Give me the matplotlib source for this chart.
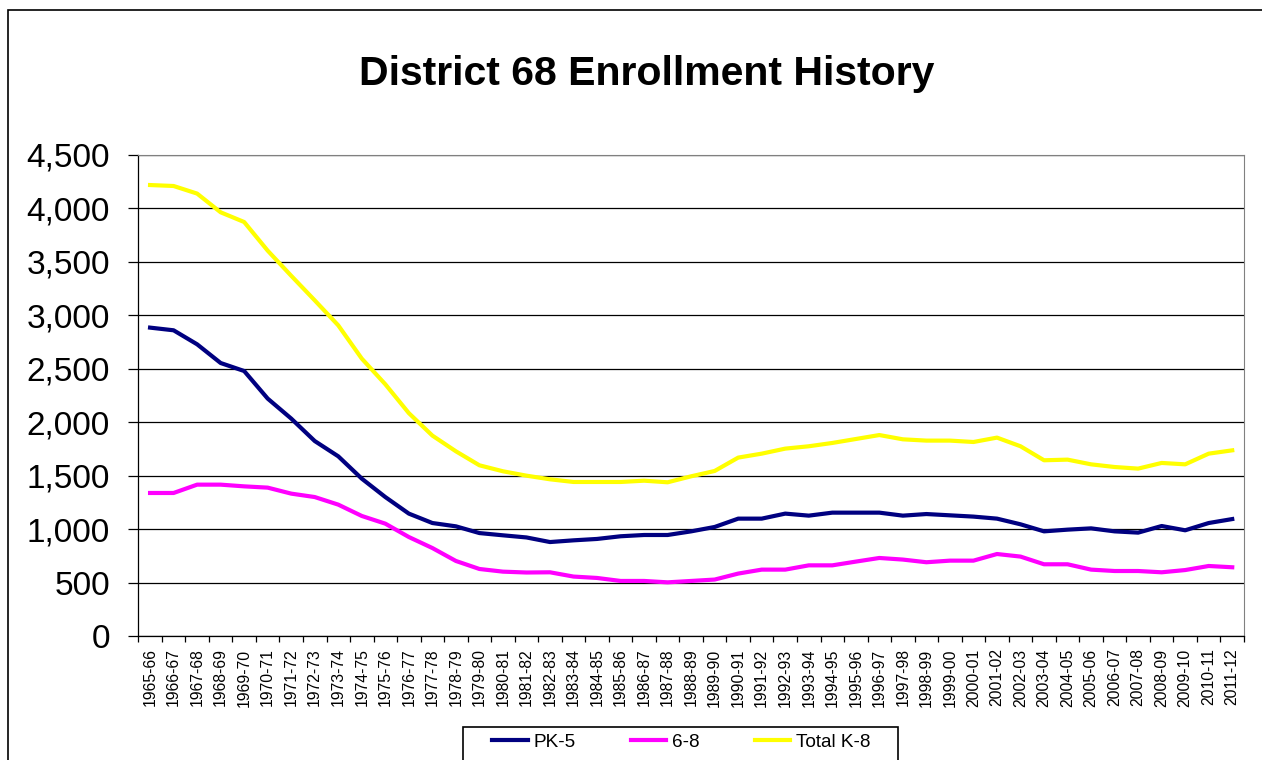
import matplotlib
matplotlib.use("Agg")
import matplotlib.pyplot as plt
from matplotlib.patches import Rectangle
from matplotlib.ticker import FuncFormatter, MultipleLocator

plt.rcParams['font.family'] = ['Liberation Sans', 'DejaVu Sans']

years = ["1965-66", "1966-67", "1967-68", "1968-69", "1969-70", "1970-71", "1971-72",
         "1972-73", "1973-74", "1974-75", "1975-76", "1976-77", "1977-78", "1978-79",
         "1979-80", "1980-81", "1981-82", "1982-83", "1983-84", "1984-85", "1985-86",
         "1986-87", "1987-88", "1988-89", "1989-90", "1990-91", "1991-92", "1992-93",
         "1993-94", "1994-95", "1995-96", "1996-97", "1997-98", "1998-99", "1999-00",
         "2000-01", "2001-02", "2002-03", "2003-04", "2004-05", "2005-06", "2006-07",
         "2007-08", "2008-09", "2009-10", "2010-11", "2011-12"]

pk5 = [2885, 2860, 2729, 2554, 2479, 2221, 2034, 1824, 1681, 1472, 1300, 1145, 1057,
       1026, 963, 942, 922, 879, 895, 908, 933, 945, 945, 979, 1020, 1098, 1098, 1145,
       1126, 1154, 1154, 1154, 1126, 1141, 1129, 1117, 1098, 1045, 979, 995, 1007, 979,
       967, 1029, 989, 1057, 1094]
grade68 = [1338, 1338, 1416, 1416, 1400, 1388, 1332, 1300, 1229, 1123, 1051, 926, 823,
           702, 627, 602, 594, 596, 556, 543, 515, 515, 502, 515, 528, 584, 621, 621,
           661, 661, 696, 730, 715, 690, 705, 705, 767, 743, 671, 671, 621, 608, 608,
           596, 617, 655, 643]
total = [4219, 4210, 4139, 3964, 3873, 3605, 3370, 3140, 2906, 2595, 2355, 2085, 1875,
         1728, 1597, 1541, 1500, 1466, 1441, 1441, 1441, 1453, 1438, 1494, 1544, 1669,
         1706, 1753, 1775, 1806, 1843, 1880, 1840, 1828, 1828, 1815, 1856, 1775, 1644,
         1650, 1606, 1581, 1566, 1619, 1606, 1706, 1737]

W, H = 1262, 760
fig = plt.figure(figsize=(W / 100, H / 100), dpi=100)
ax = fig.add_axes([138.3 / W, 1 - 636 / H, (1244 - 138.3) / W, (636 - 155) / H])

x = list(range(len(years)))
ax.plot(x, pk5, color='#000080', lw=3, label='PK-5', solid_joinstyle='round')
ax.plot(x, grade68, color='#FF00FF', lw=3, label='6-8', solid_joinstyle='round')
ax.plot(x, total, color='#FFFF00', lw=3, label='Total K-8', solid_joinstyle='round')

ax.set_xlim(-0.5, len(years) - 0.5)
ax.set_ylim(0, 4500)
ax.yaxis.set_major_locator(MultipleLocator(500))
ax.yaxis.set_major_formatter(FuncFormatter(lambda v, p: f"{int(v):,}"))
ax.grid(axis='y', color='black', lw=0.9)
ax.set_axisbelow(True)

ax.set_xticks(x)
ax.set_xticklabels(years, rotation=90, fontsize=11.3)
ax.set_xticks([i - 0.5 for i in range(len(years) + 1)], minor=True)
ax.tick_params(axis='x', which='major', length=0, pad=9)
ax.tick_params(axis='x', which='minor', length=4, width=0.9, direction='out')
ax.tick_params(axis='y', length=7.5, width=0.9, pad=13, labelsize=24)

ax.spines['top'].set_color('#808080')
ax.spines['right'].set_color('#808080')
ax.spines['left'].set_linewidth(0.9)
ax.spines['bottom'].set_linewidth(0.9)

fig.text(647 / W, 1 - 74 / H, "District 68 Enrollment History", ha='center', va='center',
         fontsize=29.5, fontweight='bold')

# outer chart border
fig.patches.append(Rectangle((8 / W, -0.1), 1.2, 1.1 - 10 / H, transform=fig.transFigure,
                             fill=False, edgecolor='black', lw=1.2))
# legend frame
fig.patches.append(Rectangle((463 / W, -0.05), (898 - 463) / W, 0.05 + 1 - 727 / H,
                             transform=fig.transFigure, fill=False, edgecolor='black', lw=1.2))

fig.legend(loc='center left', bbox_to_anchor=(492 / W, 1 - 742 / H), ncol=3, frameon=False,
           fontsize=13.7, handlelength=1.87, handletextpad=0.3, columnspacing=2.9,
           borderpad=0, borderaxespad=0)

fig.savefig("out.png", dpi=100)
